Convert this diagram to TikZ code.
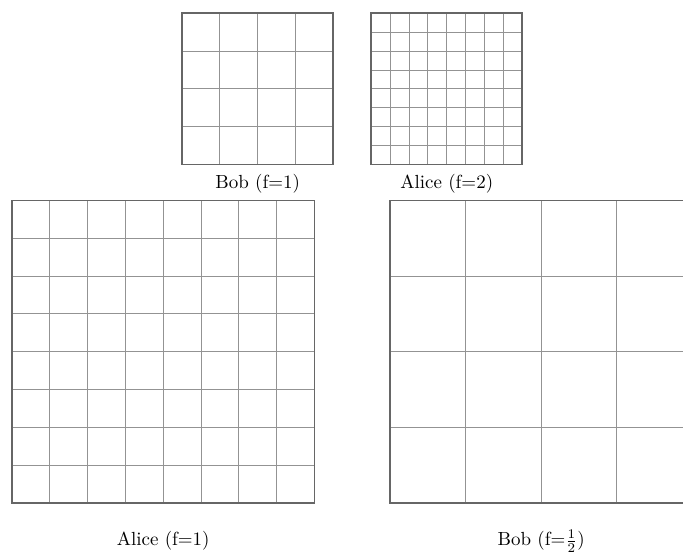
\documentclass[tikz,border=0pt]{standalone}
\usepackage{amsmath}
\usepackage{xcolor}
\usepackage{tikz}
\usetikzlibrary{positioning}

\begin{document}
\begin{tikzpicture}[
  x=0.7cm, y=0.7cm,
  every node/.style={font=\normalsize},
  fine/.style={gray!85, line width=0.45pt},
  frame/.style={black!60, line width=0.9pt},
]
\useasboundingbox (-0.317,-1.304) rectangle (17.75,13.30);

% top row
\begin{scope}[shift={(4.5,8.95)}]
  \draw[fine, step=1] (0,0) grid (4,4);
  \draw[frame] (0,0) rectangle (4,4);
\end{scope}
\begin{scope}[shift={(9.5,8.95)}]
  \draw[fine, step=0.5] (0,0) grid (4,4);
  \draw[frame] (0,0) rectangle (4,4);
\end{scope}

\node (bobone) at (6.5, 8.43) {Bob (f=1)};
\node (alicetwo) at (11.5, 8.43) {Alice (f=2)};

% bottom row
\draw[fine, step=1] (0,0) grid (8,8);
\draw[frame] (0,0) rectangle (8,8);
\begin{scope}[shift={(10,0)}]
  \draw[fine, step=2] (0,0) grid (8,8);
  \draw[frame] (0,0) rectangle (8,8);
\end{scope}

\node (aliceone) at (4, -1.01) {Alice (f=1)};
\node (bobhalf) at (14, -1.01) {Bob (f=$\frac{1}{2}$)};

\end{tikzpicture}
\end{document}
